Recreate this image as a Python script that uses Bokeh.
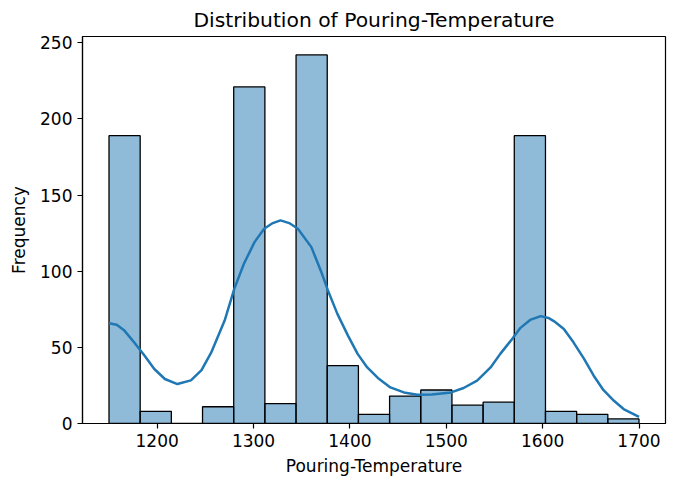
import numpy as np
from bokeh.plotting import figure
from bokeh.models import ColumnDataSource, FixedTicker, Range1d
from bokeh.embed import file_html
from bokeh.resources import INLINE

# ---- data ----
bin_min = 1150
bin_max = 1700
counts = [189, 8, 0, 11, 221, 13, 242, 38, 6, 18, 22, 12, 14, 189, 8, 6, 3]

kde_x = [1150, 1158, 1166, 1176, 1187, 1197, 1208, 1221, 1235, 1246, 1256, 1270,
         1280, 1290, 1301, 1311, 1320, 1328, 1337, 1346, 1360, 1370, 1377, 1387,
         1398, 1408, 1418, 1429, 1442, 1456, 1470, 1485, 1505, 1518, 1532, 1546,
         1556, 1567, 1577, 1587, 1598, 1606, 1612, 1622, 1632, 1643, 1653, 1663,
         1674, 1684, 1700]
kde_y = [65.8, 64.8, 61.0, 53.3, 44.5, 35.8, 29.2, 25.9, 28.3, 35.0, 46.5, 67.6,
         88.4, 104.9, 119.1, 127.9, 131.6, 133.4, 131.6, 127.9, 115.8, 100.0, 87.7, 72.0,
         57.7, 45.7, 36.8, 29.9, 23.7, 20.4, 18.9, 19.0, 20.4, 23.3, 28.1, 36.8,
         45.7, 54.4, 62.8, 68.0, 70.5, 69.3, 67.1, 62.1, 53.3, 42.4, 31.4, 22.0,
         14.9, 9.5, 4.4]

x_ticks = [1200, 1300, 1400, 1500, 1600, 1700]
y_ticks = [0, 50, 100, 150, 200, 250]

title_text = "Distribution of Pouring-Temperature"
x_label = "Pouring-Temperature"
y_label = "Frequency"

# ---- build ----
edges = np.linspace(bin_min, bin_max, len(counts) + 1)
src = ColumnDataSource(dict(left=edges[:-1], right=edges[1:],
                            top=counts, bottom=[0] * len(counts)))

span = bin_max - bin_min
ymax = max(counts) * 1.05

FONT = "DejaVu Sans"
p = figure(width=680, height=480, output_backend="svg", toolbar_location=None,
           x_range=Range1d(bin_min - 0.05 * span, bin_max + 0.05 * span),
           y_range=Range1d(0, ymax),
           min_border_left=82, min_border_right=15,
           min_border_top=36, min_border_bottom=57,
           title=title_text)

p.quad(left="left", right="right", top="top", bottom="bottom", source=src,
       fill_color="#1f77b4", fill_alpha=0.5, line_color="black", line_width=1.3)
p.line(kde_x, kde_y, line_color="#1f77b4", line_width=2.5)

p.title.text_font = FONT
p.title.text_font_size = "20.3px"
p.title.text_font_style = "normal"
p.title.align = "center"
p.title.text_color = "black"
p.title.standoff = 9

p.xgrid.visible = False
p.ygrid.visible = False
p.outline_line_color = "black"
p.outline_line_width = 1.2
p.background_fill_color = "white"
p.border_fill_color = "white"

for ax in (p.xaxis[0], p.yaxis[0]):
    ax.axis_line_color = "black"
    ax.axis_line_width = 1.2
    ax.major_tick_line_color = "black"
    ax.major_tick_line_width = 1.2
    ax.major_tick_in = 0
    ax.major_tick_out = 5
    ax.minor_tick_line_color = None
    ax.major_label_text_font = FONT
    ax.major_label_text_font_size = "17px"
    ax.major_label_text_color = "black"
    ax.axis_label_text_font = FONT
    ax.axis_label_text_font_size = "17px"
    ax.axis_label_text_font_style = "normal"
    ax.axis_label_text_color = "black"
    ax.major_label_standoff = 5

p.xaxis[0].ticker = FixedTicker(ticks=x_ticks)
p.yaxis[0].ticker = FixedTicker(ticks=y_ticks)
p.xaxis[0].axis_label = x_label
p.yaxis[0].axis_label = y_label
p.xaxis[0].axis_label_standoff = 6
p.yaxis[0].axis_label_standoff = 8

open("out.html", "w").write(file_html(p, INLINE))
